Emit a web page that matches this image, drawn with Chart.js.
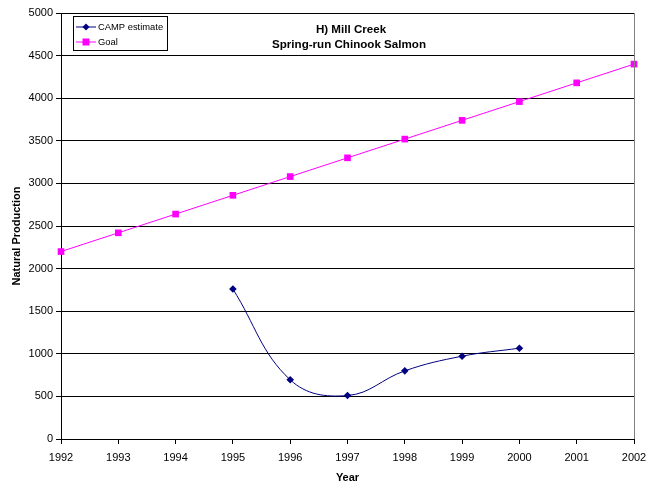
<!DOCTYPE html>
<html>
<head>
<meta charset="utf-8">
<script src="https://cdn.jsdelivr.net/npm/chart.js@4.4.1/dist/chart.umd.min.js"></script>
<style>
  html, body { margin: 0; padding: 0; background: #fff; }
  #wrap { width: 662px; height: 487px; }
</style>
</head>
<body>
<div id="wrap"><canvas id="c" width="662" height="487"></canvas></div>
<script>
// Mill Creek spring-run Chinook: natural production estimates vs. goal
const campYears = [1995, 1996, 1997, 1998, 1999, 2000];
const campValues = [1760, 695, 510, 800, 972, 1066];
const goalYears = [1992, 1993, 1994, 1995, 1996, 1997, 1998, 1999, 2000, 2001, 2002];
const goalValues = [2200, 2420, 2640, 2860, 3080, 3300, 3520, 3740, 3960, 4180, 4400];
const titleLines = ['H) Mill Creek', 'Spring-run Chinook Salmon'];
const seriesNames = ['CAMP estimate', 'Goal'];
const yAxisTitle = 'Natural Production';
const xAxisTitle = 'Year';

const FONT = "'Liberation Sans', Arial, sans-serif";
const NAVY = '#000080';
const MAGENTA = '#FF00FF';

const toPoints = (xs, ys) => xs.map((x, i) => ({ x: x, y: ys[i] }));

// Title, legend and y-axis caption drawn over the plot, plus the grey right frame edge
const overlay = {
  id: 'overlay',
  afterDraw(chart) {
    const { ctx, chartArea: a } = chart;
    ctx.save();
    // right frame edge
    ctx.strokeStyle = '#808080';
    ctx.lineWidth = 1;
    ctx.beginPath();
    ctx.moveTo(a.right + 0.5, a.top);
    ctx.lineTo(a.right + 0.5, a.bottom);
    ctx.stroke();

    // title
    ctx.fillStyle = '#000';
    ctx.font = 'bold 11.6px ' + FONT;
    ctx.textAlign = 'center';
    ctx.textBaseline = 'middle';
    ctx.fillText(titleLines[0], 351, 30);
    ctx.fillText(titleLines[1], 349, 45);

    // y-axis caption
    ctx.save();
    ctx.translate(17, 236);
    ctx.rotate(-Math.PI / 2);
    ctx.font = 'bold 11px ' + FONT;
    ctx.fillText(yAxisTitle, 0, 0);
    ctx.restore();

    // legend box
    const bx = 73.5, by = 16.5, bw = 94, bh = 34;
    ctx.fillStyle = '#fff';
    ctx.fillRect(bx, by, bw, bh);
    ctx.strokeStyle = '#000';
    ctx.lineWidth = 1;
    ctx.strokeRect(bx, by, bw, bh);
    const rows = [
      { ds: chart.data.datasets[0], y: 27 },
      { ds: chart.data.datasets[1], y: 42 }
    ];
    rows.forEach(r => {
      ctx.strokeStyle = r.ds.borderColor;
      ctx.lineWidth = 1;
      ctx.beginPath();
      ctx.moveTo(76, r.y);
      ctx.lineTo(96, r.y);
      ctx.stroke();
      ctx.fillStyle = r.ds.backgroundColor;
      ctx.beginPath();
      if (r.ds.pointStyle === 'rectRot') {
        ctx.moveTo(86, r.y - 3.5);
        ctx.lineTo(89.5, r.y);
        ctx.lineTo(86, r.y + 3.5);
        ctx.lineTo(82.5, r.y);
        ctx.closePath();
      } else {
        ctx.rect(82.5, r.y - 3.5, 7, 7);
      }
      ctx.fill();
      ctx.fillStyle = '#000';
      ctx.font = '9.4px ' + FONT;
      ctx.textAlign = 'left';
      ctx.fillText(r.ds.label, 98, r.y);
    });
    ctx.restore();
  }
};

new Chart(document.getElementById('c'), {
  type: 'line',
  data: {
    datasets: [
      {
        label: seriesNames[0],
        data: toPoints(campYears, campValues),
        borderColor: NAVY,
        backgroundColor: NAVY,
        borderWidth: 1,
        pointStyle: 'rectRot',
        pointRadius: 3.8,
        pointBorderWidth: 0,
        tension: 0.4,
        clip: false
      },
      {
        label: seriesNames[1],
        data: toPoints(goalYears, goalValues),
        borderColor: MAGENTA,
        backgroundColor: MAGENTA,
        borderWidth: 1,
        pointStyle: 'rect',
        pointRadius: 4.7,
        pointBorderWidth: 0,
        tension: 0,
        clip: false
      }
    ]
  },
  options: {
    responsive: false,
    animation: false,
    devicePixelRatio: 1,
    layout: { padding: { left: 0, right: 28, top: 13, bottom: 0 } },
    plugins: {
      legend: { display: false },
      title: { display: false },
      tooltip: { enabled: false }
    },
    scales: {
      x: {
        type: 'linear',
        min: 1992,
        max: 2002,
        ticks: {
          stepSize: 1,
          color: '#000',
          font: { family: FONT, size: 11 },
          padding: 7,
          maxRotation: 0,
          callback: v => String(v)
        },
        grid: {
          drawOnChartArea: false,
          drawTicks: true,
          tickLength: 5,
          color: '#000'
        },
        border: { color: '#000', width: 1 },
        title: {
          display: true,
          text: xAxisTitle,
          color: '#000',
          font: { family: FONT, size: 11, weight: 'bold' },
          padding: { top: 2, bottom: 2 }
        },
        afterFit: s => { s.height = 48; }
      },
      y: {
        min: 0,
        max: 5000,
        ticks: {
          stepSize: 500,
          color: '#000',
          font: { family: FONT, size: 11 },
          padding: 3,
          callback: v => String(v)
        },
        grid: {
          color: '#000',
          lineWidth: 1,
          drawTicks: true,
          tickLength: 5
        },
        border: { color: '#000', width: 1 },
        title: { display: false },
        afterFit: s => { s.width = 61; }
      }
    }
  },
  plugins: [overlay]
});
</script>
</body>
</html>
